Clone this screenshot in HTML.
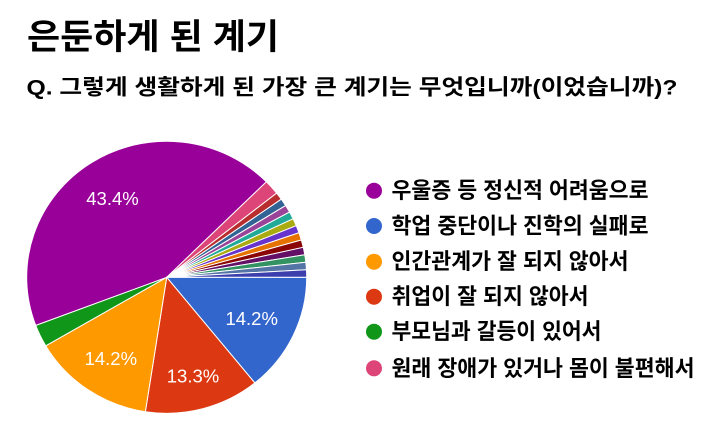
<!DOCTYPE html>
<html>
<head>
<meta charset="utf-8">
<style>
  html, body { margin:0; padding:0; background:#fff; }
  body { width:715px; height:436px; overflow:hidden; }
  svg { display:block; }
  .kr { font-family: "Liberation Sans", "Noto Sans CJK KR", "NanumGothic", sans-serif; font-weight:bold; fill:#000; }
  .lbl { font-family: "Liberation Sans", Arial, sans-serif; font-size:18.5px; fill:#fff; }
</style>
</head>
<body>
<svg width="715" height="436" viewBox="0 0 715 436" xmlns="http://www.w3.org/2000/svg">
  <rect width="715" height="436" fill="#fff"/>

  <!-- Title -->
  <text class="kr" x="27" y="49.2" font-size="35" textLength="252" lengthAdjust="spacingAndGlyphs">은둔하게 된 계기</text>
  <!-- Subtitle -->
  <text class="kr" x="26.5" y="94.5" font-size="21.5" textLength="651" lengthAdjust="spacingAndGlyphs">Q. 그렇게 생활하게 된 가장 큰 계기는 무엇입니까(이었습니까)?</text>

  <!-- Pie -->
  <g transform="translate(166.7,277.3) scale(1,0.9714)" stroke="#fff" stroke-width="1" stroke-linejoin="round">
    <path vector-effect="non-scaling-stroke" fill="#3366cc" d="M0 0 L140 0 A140 140 0 0 1 88.16 108.75 Z"/>
    <path vector-effect="non-scaling-stroke" fill="#dc3912" d="M0 0 L88.16 108.75 A140 140 0 0 1 -21.32 138.37 Z"/>
    <path vector-effect="non-scaling-stroke" fill="#ff9900" d="M0 0 L-21.32 138.37 A140 140 0 0 1 -120.92 70.56 Z"/>
    <path vector-effect="non-scaling-stroke" fill="#109618" d="M0 0 L-120.92 70.56 A140 140 0 0 1 -130.96 49.51 Z"/>
    <path vector-effect="non-scaling-stroke" fill="#990099" d="M0 0 L-130.96 49.51 A140 140 0 0 1 99.68 -98.31 Z"/>
    <path vector-effect="non-scaling-stroke" fill="#dd4477" d="M0 0 L99.68 -98.31 A140 140 0 0 1 109.98 -86.63 Z"/>
    <path vector-effect="non-scaling-stroke" fill="#b82e2e" d="M0 0 L109.98 -86.63 A140 140 0 0 1 114.62 -80.39 Z"/>
    <path vector-effect="non-scaling-stroke" fill="#316395" d="M0 0 L114.62 -80.39 A140 140 0 0 1 118.91 -73.89 Z"/>
    <path vector-effect="non-scaling-stroke" fill="#994499" d="M0 0 L118.91 -73.89 A140 140 0 0 1 122.83 -67.17 Z"/>
    <path vector-effect="non-scaling-stroke" fill="#22aa99" d="M0 0 L122.83 -67.17 A140 140 0 0 1 126.38 -60.24 Z"/>
    <path vector-effect="non-scaling-stroke" fill="#aaaa11" d="M0 0 L126.38 -60.24 A140 140 0 0 1 129.53 -53.13 Z"/>
    <path vector-effect="non-scaling-stroke" fill="#6633cc" d="M0 0 L129.53 -53.13 A140 140 0 0 1 132.28 -45.85 Z"/>
    <path vector-effect="non-scaling-stroke" fill="#e67300" d="M0 0 L132.28 -45.85 A140 140 0 0 1 134.62 -38.42 Z"/>
    <path vector-effect="non-scaling-stroke" fill="#8b0707" d="M0 0 L134.62 -38.42 A140 140 0 0 1 136.55 -30.88 Z"/>
    <path vector-effect="non-scaling-stroke" fill="#651067" d="M0 0 L136.55 -30.88 A140 140 0 0 1 138.06 -23.25 Z"/>
    <path vector-effect="non-scaling-stroke" fill="#329262" d="M0 0 L138.06 -23.25 A140 140 0 0 1 139.14 -15.54 Z"/>
    <path vector-effect="non-scaling-stroke" fill="#5574a6" d="M0 0 L139.14 -15.54 A140 140 0 0 1 139.78 -7.78 Z"/>
    <path vector-effect="non-scaling-stroke" fill="#3b3eac" d="M0 0 L139.78 -7.78 A140 140 0 0 1 140 0 Z"/>
  </g>

  <!-- Slice labels -->
  <text class="lbl" x="112.5" y="205" text-anchor="middle">43.4%</text>
  <text class="lbl" x="251.7" y="325" text-anchor="middle">14.2%</text>
  <text class="lbl" x="110.8" y="365" text-anchor="middle">14.2%</text>
  <text class="lbl" x="193" y="382.7" text-anchor="middle">13.3%</text>

  <!-- Legend -->
  <circle cx="374" cy="190.7" r="8" fill="#990099"/>
  <text class="kr" x="391.5" y="198.2" font-size="22" textLength="257" lengthAdjust="spacingAndGlyphs">우울증 등 정신적 어려움으로</text>

  <circle cx="374" cy="226" r="8" fill="#3366cc"/>
  <text class="kr" x="391.5" y="233.5" font-size="22" textLength="257" lengthAdjust="spacingAndGlyphs">학업 중단이나 진학의 실패로</text>

  <circle cx="374" cy="261.7" r="8" fill="#ff9900"/>
  <text class="kr" x="391.5" y="269.2" font-size="22" textLength="237" lengthAdjust="spacingAndGlyphs">인간관계가 잘 되지 않아서</text>

  <circle cx="374" cy="296.7" r="8" fill="#dc3912"/>
  <text class="kr" x="391.5" y="304.2" font-size="22" textLength="197" lengthAdjust="spacingAndGlyphs">취업이 잘 되지 않아서</text>

  <circle cx="374" cy="331.7" r="8" fill="#109618"/>
  <text class="kr" x="391.5" y="339.2" font-size="22" textLength="210" lengthAdjust="spacingAndGlyphs">부모님과 갈등이 있어서</text>

  <circle cx="374" cy="368.3" r="8" fill="#dd4477"/>
  <text class="kr" x="391.5" y="375.8" font-size="22" textLength="303" lengthAdjust="spacingAndGlyphs">원래 장애가 있거나 몸이 불편해서</text>
</svg>
</body>
</html>
